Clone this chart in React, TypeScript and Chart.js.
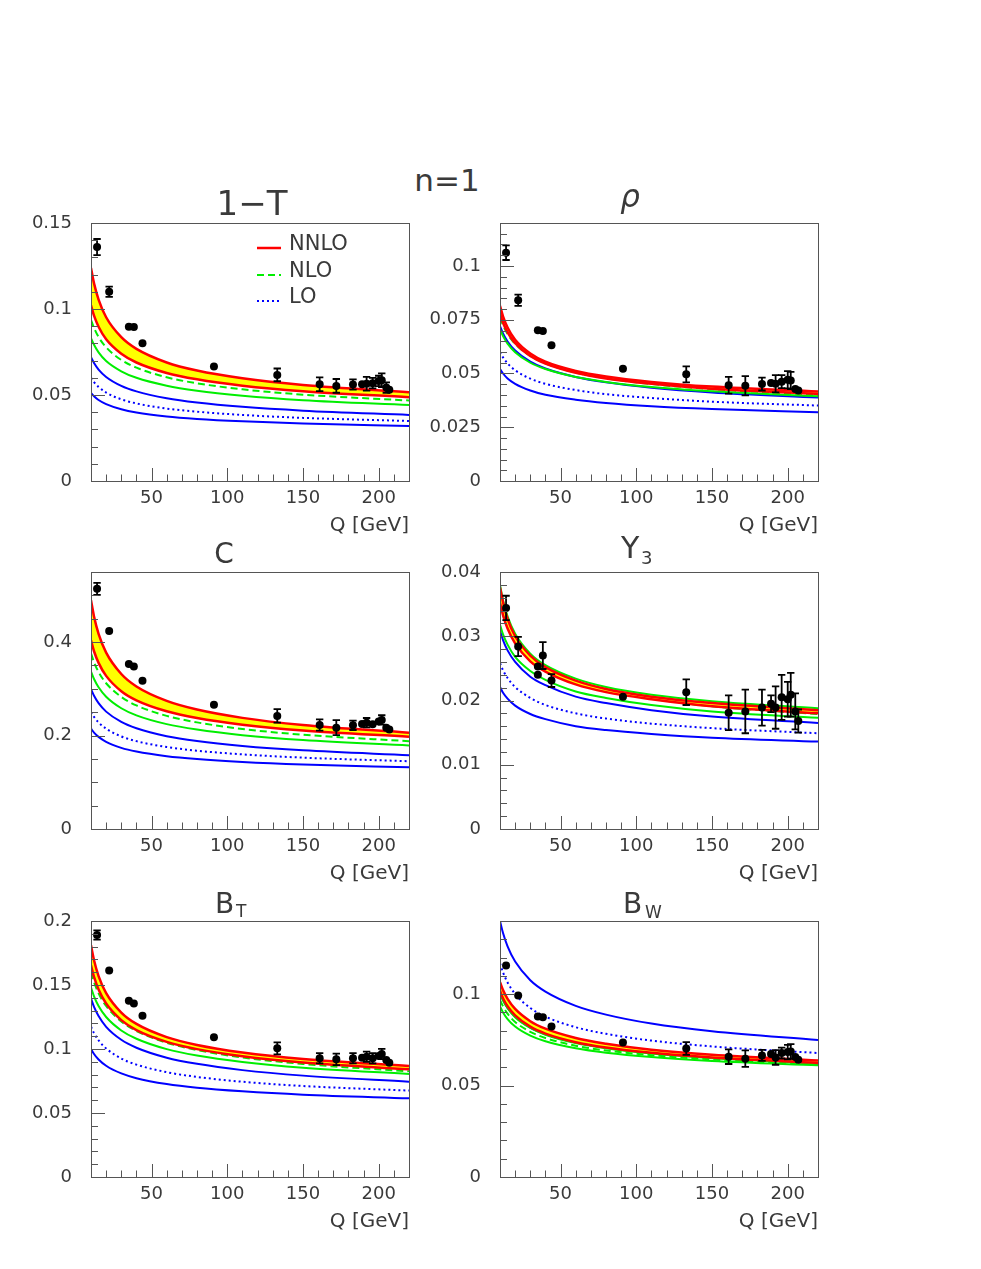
import React, { useEffect, useRef } from 'react';
import { Chart, registerables } from 'chart.js';
Chart.register(...registerables);

const FONT = "'DejaVu Sans', 'Liberation Sans', sans-serif";
const TEXT = '#3a3a3a';
const AXIS = '#555555';
const RED = '#ff0000';
const YELLOW = '#ffff00';
const GREEN = '#00ee00';
const BLUE = '#0000ff';

const PAD_L = 80, PAD_T = 60, PAD_R = 20, PAD_B = 60;

// ---------- shared axes ----------
const X_MIN = 10, X_MAX = 220;
const X_TICKS = [50, 100, 150, 200];
const X_TICK_LABELS = ['50', '100', '150', '200'];
const X_MINOR = [20, 30, 40, 50, 60, 70, 80, 90, 100, 110, 120, 130, 140, 150, 160, 170, 180, 190, 200, 210];
const X_TITLE = 'Q [GeV]';
const LEGEND_LABELS = ['NNLO', 'NLO', 'LO'];
const FIG_TITLE = 'n=1';

// ---------- theory curves (sampled Q values) ----------
const CURVE_Q = [10, 12, 15, 20, 30, 40, 60, 80, 110, 150, 220];

// 1-T
const T_NNLO_HI = [0.1238, 0.1149, 0.1055, 0.0952, 0.0836, 0.0768, 0.0689, 0.0642, 0.0597, 0.0558, 0.0516];
const T_NNLO_LO = [0.1021, 0.0961, 0.0897, 0.0824, 0.0740, 0.0689, 0.0628, 0.0591, 0.0554, 0.0522, 0.0487];
const T_NLO_HI = [0.1045, 0.0989, 0.0928, 0.0857, 0.0771, 0.0718, 0.0653, 0.0612, 0.0571, 0.0534, 0.0494];
const T_NLO_MID = [0.0937, 0.0890, 0.0837, 0.0777, 0.0704, 0.0659, 0.0603, 0.0568, 0.0533, 0.0502, 0.0468];
const T_NLO_LO = [0.0831, 0.0792, 0.0748, 0.0698, 0.0638, 0.0600, 0.0554, 0.0525, 0.0496, 0.0470, 0.0442];
const T_LO_HI = [0.0720, 0.0686, 0.0648, 0.0605, 0.0553, 0.0521, 0.0481, 0.0456, 0.0431, 0.0409, 0.0384];
const T_LO_MID = [0.0600, 0.0575, 0.0547, 0.0514, 0.0475, 0.0451, 0.0421, 0.0403, 0.0384, 0.0367, 0.0349];
const T_LO_LO = [0.0512, 0.0493, 0.0471, 0.0447, 0.0417, 0.0398, 0.0375, 0.0361, 0.0347, 0.0334, 0.0320];

// rho
const RHO_NNLO_HI = [0.0815, 0.0766, 0.0714, 0.0657, 0.0593, 0.0555, 0.0512, 0.0486, 0.0461, 0.0439, 0.0416];
const RHO_NNLO_LO = [0.0778, 0.0736, 0.0691, 0.0641, 0.0581, 0.0546, 0.0503, 0.0477, 0.0452, 0.0429, 0.0405];
const RHO_NLO_HI = [0.0790, 0.0747, 0.0701, 0.0650, 0.0589, 0.0553, 0.0510, 0.0483, 0.0457, 0.0434, 0.0409];
const RHO_NLO_MID = [0.0760, 0.0724, 0.0684, 0.0638, 0.0582, 0.0547, 0.0504, 0.0478, 0.0451, 0.0427, 0.0401];
const RHO_NLO_LO = [0.0705, 0.0674, 0.0639, 0.0599, 0.0550, 0.0521, 0.0484, 0.0461, 0.0437, 0.0417, 0.0394];
const RHO_LO_HI = [0.0720, 0.0686, 0.0649, 0.0607, 0.0555, 0.0523, 0.0484, 0.0459, 0.0434, 0.0412, 0.0388];
const RHO_LO_MID = [0.0600, 0.0575, 0.0547, 0.0515, 0.0476, 0.0452, 0.0423, 0.0404, 0.0386, 0.0369, 0.0351];
const RHO_LO_LO = [0.0520, 0.0500, 0.0477, 0.0452, 0.0421, 0.0401, 0.0378, 0.0363, 0.0348, 0.0335, 0.0320];

// C
const C_NNLO_HI = [0.4897, 0.4548, 0.4176, 0.3774, 0.3317, 0.3050, 0.2741, 0.2556, 0.2378, 0.2225, 0.2060];
const C_NNLO_LO = [0.4035, 0.3804, 0.3555, 0.3277, 0.2949, 0.2754, 0.2519, 0.2375, 0.2233, 0.2109, 0.1975];
const C_NLO_HI = [0.4120, 0.3882, 0.3625, 0.3338, 0.3000, 0.2798, 0.2556, 0.2407, 0.2261, 0.2133, 0.1995];
const C_NLO_MID = [0.3760, 0.3570, 0.3360, 0.3119, 0.2826, 0.2645, 0.2421, 0.2282, 0.2141, 0.2017, 0.1880];
const C_NLO_LO = [0.3370, 0.3210, 0.3033, 0.2831, 0.2584, 0.2432, 0.2244, 0.2127, 0.2008, 0.1903, 0.1788];
const C_LO_HI = [0.2994, 0.2851, 0.2693, 0.2512, 0.2291, 0.2156, 0.1987, 0.1883, 0.1777, 0.1683, 0.1580];
const C_LO_MID = [0.2506, 0.2399, 0.2281, 0.2146, 0.1981, 0.1880, 0.1754, 0.1676, 0.1597, 0.1527, 0.1450];
const C_LO_LO = [0.2147, 0.2063, 0.1971, 0.1865, 0.1736, 0.1657, 0.1558, 0.1497, 0.1435, 0.1380, 0.1320];

// Y3
const Y3_NNLO_HI = [0.0376, 0.0353, 0.0327, 0.0300, 0.0270, 0.0252, 0.0231, 0.0218, 0.0206, 0.0196, 0.0185];
const Y3_NNLO_LO = [0.0352, 0.0333, 0.0312, 0.0289, 0.0261, 0.0245, 0.0225, 0.0213, 0.0202, 0.0191, 0.0180];
const Y3_NLO_HI = [0.0380, 0.0356, 0.0331, 0.0304, 0.0273, 0.0255, 0.0234, 0.0221, 0.0209, 0.0199, 0.0188];
const Y3_NLO_MID = [0.0350, 0.0333, 0.0314, 0.0292, 0.0265, 0.0249, 0.0228, 0.0216, 0.0203, 0.0191, 0.0179];
const Y3_NLO_LO = [0.0318, 0.0303, 0.0287, 0.0268, 0.0246, 0.0232, 0.0214, 0.0204, 0.0193, 0.0183, 0.0173];
const Y3_LO_HI = [0.0309, 0.0294, 0.0278, 0.0260, 0.0237, 0.0224, 0.0206, 0.0196, 0.0185, 0.0175, 0.0165];
const Y3_LO_MID = [0.0258, 0.0247, 0.0235, 0.0221, 0.0204, 0.0193, 0.0180, 0.0172, 0.0164, 0.0157, 0.0149];
const Y3_LO_LO = [0.0221, 0.0212, 0.0203, 0.0192, 0.0179, 0.0171, 0.0160, 0.0154, 0.0148, 0.0142, 0.0136];

// B_T
const BT_NNLO_HI = [0.1810, 0.1694, 0.1570, 0.1437, 0.1285, 0.1196, 0.1093, 0.1032, 0.0973, 0.0922, 0.0867];
const BT_NNLO_LO = [0.1654, 0.1563, 0.1465, 0.1355, 0.1226, 0.1148, 0.1056, 0.0999, 0.0943, 0.0894, 0.0841];
const BT_NLO_HI = [0.1675, 0.1583, 0.1483, 0.1371, 0.1240, 0.1162, 0.1068, 0.1010, 0.0953, 0.0904, 0.0850];
const BT_NLO_MID = [0.1600, 0.1522, 0.1435, 0.1336, 0.1215, 0.1141, 0.1049, 0.0992, 0.0934, 0.0883, 0.0826];
const BT_NLO_LO = [0.1480, 0.1412, 0.1336, 0.1250, 0.1145, 0.1080, 0.0999, 0.0949, 0.0899, 0.0854, 0.0805];
const BT_LO_HI = [0.1395, 0.1329, 0.1257, 0.1173, 0.1072, 0.1010, 0.0932, 0.0884, 0.0835, 0.0792, 0.0745];
const BT_LO_MID = [0.1174, 0.1124, 0.1068, 0.1004, 0.0926, 0.0878, 0.0819, 0.0782, 0.0744, 0.0711, 0.0675];
const BT_LO_LO = [0.1000, 0.0961, 0.0918, 0.0869, 0.0809, 0.0772, 0.0726, 0.0697, 0.0669, 0.0643, 0.0615];

// B_W
const BW_NNLO_HI = [0.1065, 0.1022, 0.0974, 0.0919, 0.0852, 0.0811, 0.0760, 0.0729, 0.0696, 0.0668, 0.0637];
const BW_NNLO_LO = [0.1018, 0.0978, 0.0934, 0.0884, 0.0822, 0.0784, 0.0737, 0.0708, 0.0679, 0.0653, 0.0624];
const BW_NLO_HI = [0.1005, 0.0966, 0.0923, 0.0874, 0.0815, 0.0778, 0.0732, 0.0704, 0.0675, 0.0650, 0.0622];
const BW_NLO_MID = [0.0968, 0.0933, 0.0893, 0.0848, 0.0794, 0.0760, 0.0718, 0.0692, 0.0666, 0.0643, 0.0617];
const BW_NLO_LO = [0.0933, 0.0900, 0.0864, 0.0823, 0.0773, 0.0742, 0.0704, 0.0680, 0.0656, 0.0635, 0.0611];
const BW_LO_HI = [0.1400, 0.1334, 0.1261, 0.1178, 0.1076, 0.1014, 0.0936, 0.0888, 0.0839, 0.0797, 0.0749];
const BW_LO_MID = [0.1168, 0.1119, 0.1064, 0.1001, 0.0924, 0.0877, 0.0819, 0.0783, 0.0746, 0.0714, 0.0678];
const BW_LO_LO = [0.1005, 0.0967, 0.0924, 0.0876, 0.0817, 0.0781, 0.0736, 0.0708, 0.0680, 0.0655, 0.0627];

// ---------- measurements ----------
const DATA_Q = [14, 22, 35, 38.3, 44, 91.2, 133, 161, 172, 183, 189, 192, 196, 200, 202, 205, 207];
const Y3_DATA_Q = [14, 22, 35, 35, 38.3, 44, 91.2, 133, 161, 172, 183, 189, 192, 196, 200, 202, 205, 207];

const T_DATA = [0.136, 0.110, 0.0897, 0.0895, 0.0801, 0.0666, 0.0617, 0.0563, 0.0553, 0.0561, 0.0563, 0.0565, 0.0569, 0.0582, 0.0586, 0.0543, 0.0530];
const T_ERR = [0.0047, 0.003, 0.0015, 0.002, 0.001, 0.0005, 0.0037, 0.004, 0.004, 0.003, 0.001, 0.004, 0.003, 0.003, 0.004, 0.003, 0.002];

const RHO_DATA = [0.1062, 0.0841, 0.0701, 0.0698, 0.0631, 0.0522, 0.0496, 0.0445, 0.0443, 0.0451, 0.0456, 0.0452, 0.0462, 0.0471, 0.0468, 0.0428, 0.0421];
const RHO_ERR = [0.0034, 0.0026, 0.001, 0.0015, 0.0008, 0.0003, 0.0037, 0.0039, 0.0045, 0.003, 0.001, 0.004, 0.003, 0.004, 0.004, 0.002, 0.002];

const C_DATA = [0.514, 0.4236, 0.3533, 0.3475, 0.3174, 0.2657, 0.242, 0.2226, 0.2168, 0.2219, 0.2247, 0.2276, 0.224, 0.2298, 0.2334, 0.2168, 0.2132];
const C_ERR = [0.0129, 0.008, 0.005, 0.008, 0.003, 0.001, 0.0144, 0.012, 0.016, 0.01, 0.003, 0.01, 0.009, 0.009, 0.01, 0.008, 0.006];

const Y3_DATA = [0.0344, 0.0284, 0.0240, 0.0253, 0.0270, 0.0231, 0.0206, 0.0213, 0.0181, 0.0183, 0.0189, 0.0195, 0.0189, 0.0205, 0.0202, 0.0209, 0.0183, 0.0168];
const Y3_ERR = [0.0019, 0.0015, 0.0006, 0.0006, 0.0021, 0.001, 0.0004, 0.002, 0.0027, 0.0034, 0.0028, 0.0013, 0.0033, 0.0035, 0.0027, 0.0034, 0.0028, 0.0018];

const BT_DATA = [0.189, 0.1613, 0.1376, 0.1356, 0.126, 0.1091, 0.1005, 0.0927, 0.0919, 0.0927, 0.0932, 0.094, 0.0927, 0.0945, 0.0961, 0.0914, 0.0893];
const BT_ERR = [0.0036, 0.0015, 0.0015, 0.0015, 0.001, 0.0005, 0.0047, 0.004, 0.0045, 0.004, 0.001, 0.004, 0.004, 0.003, 0.004, 0.003, 0.002];

const BW_DATA = [0.1157, 0.0993, 0.0878, 0.0874, 0.0823, 0.0736, 0.0703, 0.0658, 0.0647, 0.0665, 0.0672, 0.0654, 0.0678, 0.0683, 0.0687, 0.0656, 0.0641];
const BW_ERR = [0.001, 0.001, 0.001, 0.002, 0.001, 0.0005, 0.0035, 0.004, 0.0045, 0.003, 0.001, 0.004, 0.003, 0.004, 0.004, 0.002, 0.002];

// ---------- y axes ----------
const T_Y_TICKS = [0, 0.05, 0.1, 0.15];
const T_Y_LABELS = ['0', '0.05', '0.1', '0.15'];
const RHO_Y_TICKS = [0, 0.025, 0.05, 0.075, 0.1];
const RHO_Y_LABELS = ['0', '0.025', '0.05', '0.075', '0.1'];
const C_Y_TICKS = [0, 0.2, 0.4];
const C_Y_LABELS = ['0', '0.2', '0.4'];
const Y3_Y_TICKS = [0, 0.01, 0.02, 0.03, 0.04];
const Y3_Y_LABELS = ['0', '0.01', '0.02', '0.03', '0.04'];
const BT_Y_TICKS = [0, 0.05, 0.1, 0.15, 0.2];
const BT_Y_LABELS = ['0', '0.05', '0.1', '0.15', '0.2'];
const BW_Y_TICKS = [0, 0.05, 0.1];
const BW_Y_LABELS = ['0', '0.05', '0.1'];

type TitlePart = { text: string; size: number; x: number; y: number; align?: CanvasTextAlign; italic?: boolean };
type PanelDef = {
  key: string;
  left: number; top: number; right: number; bottom: number;
  yMax: number; yMinor: number; yTicks: number[]; yLabels: string[];
  curves: number[][]; // nnloHi, nnloLo, nloHi, nloMid, nloLo, loHi, loMid, loLo
  dataQ: number[]; data: number[]; err: number[];
  title: TitlePart[];
  legend?: boolean;
};

const PANELS: PanelDef[] = [
  {
    key: 'T', left: 91, top: 223, right: 409, bottom: 481,
    yMax: 0.15, yMinor: 0.01, yTicks: T_Y_TICKS, yLabels: T_Y_LABELS,
    curves: [T_NNLO_HI, T_NNLO_LO, T_NLO_HI, T_NLO_MID, T_NLO_LO, T_LO_HI, T_LO_MID, T_LO_LO],
    dataQ: DATA_Q, data: T_DATA, err: T_ERR,
    title: [{ text: '1\u2212T', size: 34, x: 161, y: -8, align: 'center' }],
    legend: true,
  },
  {
    key: 'rho', left: 500, top: 223, right: 818, bottom: 481,
    yMax: 0.12, yMinor: 0.005, yTicks: RHO_Y_TICKS, yLabels: RHO_Y_LABELS,
    curves: [RHO_NNLO_HI, RHO_NNLO_LO, RHO_NLO_HI, RHO_NLO_MID, RHO_NLO_LO, RHO_LO_HI, RHO_LO_MID, RHO_LO_LO],
    dataQ: DATA_Q, data: RHO_DATA, err: RHO_ERR,
    title: [{ text: '\u03c1', size: 31, x: 130, y: -16, align: 'center', italic: true }],
  },
  {
    key: 'C', left: 91, top: 572, right: 409, bottom: 829,
    yMax: 0.55, yMinor: 0.05, yTicks: C_Y_TICKS, yLabels: C_Y_LABELS,
    curves: [C_NNLO_HI, C_NNLO_LO, C_NLO_HI, C_NLO_MID, C_NLO_LO, C_LO_HI, C_LO_MID, C_LO_LO],
    dataQ: DATA_Q, data: C_DATA, err: C_ERR,
    title: [{ text: 'C', size: 28, x: 133, y: -9, align: 'center' }],
  },
  {
    key: 'Y3', left: 500, top: 572, right: 818, bottom: 829,
    yMax: 0.04, yMinor: 0.002, yTicks: Y3_Y_TICKS, yLabels: Y3_Y_LABELS,
    curves: [Y3_NNLO_HI, Y3_NNLO_LO, Y3_NLO_HI, Y3_NLO_MID, Y3_NLO_LO, Y3_LO_HI, Y3_LO_MID, Y3_LO_LO],
    dataQ: Y3_DATA_Q, data: Y3_DATA, err: Y3_ERR,
    title: [{ text: 'Y', size: 30, x: 121, y: -14 }, { text: '3', size: 18, x: 141, y: -8 }],
  },
  {
    key: 'BT', left: 91, top: 921, right: 409, bottom: 1177,
    yMax: 0.2, yMinor: 0.01, yTicks: BT_Y_TICKS, yLabels: BT_Y_LABELS,
    curves: [BT_NNLO_HI, BT_NNLO_LO, BT_NLO_HI, BT_NLO_MID, BT_NLO_LO, BT_LO_HI, BT_LO_MID, BT_LO_LO],
    dataQ: DATA_Q, data: BT_DATA, err: BT_ERR,
    title: [{ text: 'B', size: 28, x: 124, y: -8 }, { text: 'T', size: 17, x: 145, y: -4 }],
  },
  {
    key: 'BW', left: 500, top: 921, right: 818, bottom: 1177,
    yMax: 0.14, yMinor: 0.01, yTicks: BW_Y_TICKS, yLabels: BW_Y_LABELS,
    curves: [BW_NNLO_HI, BW_NNLO_LO, BW_NLO_HI, BW_NLO_MID, BW_NLO_LO, BW_LO_HI, BW_LO_MID, BW_LO_LO],
    dataQ: DATA_Q, data: BW_DATA, err: BW_ERR,
    title: [{ text: 'B', size: 28, x: 123, y: -8 }, { text: 'W', size: 17, x: 145, y: -3 }],
  },
];

const CURVE_STYLE = [
  { color: RED, width: 2.5, dash: [] as number[], fill: false as any },
  { color: RED, width: 2.5, dash: [] as number[], fill: '-1' as any },
  { color: GREEN, width: 2, dash: [] as number[], fill: false as any },
  { color: GREEN, width: 2, dash: [7, 4], fill: false as any },
  { color: GREEN, width: 2, dash: [] as number[], fill: false as any },
  { color: BLUE, width: 2, dash: [] as number[], fill: false as any },
  { color: BLUE, width: 2, dash: [2, 3], fill: false as any },
  { color: BLUE, width: 2, dash: [] as number[], fill: false as any },
];

const LEGEND_STYLE = [
  { color: RED, width: 2.5, dash: [] as number[], dy: 25 },
  { color: GREEN, width: 2, dash: [7, 4], dy: 52 },
  { color: BLUE, width: 2, dash: [2, 3], dy: 78 },
];

function makeDecor(def: PanelDef) {
  return {
    id: 'decor_' + def.key,
    afterDatasetsDraw(chart: any) {
      const { ctx, scales } = chart;
      const x = scales.x, y = scales.y;
      ctx.save();
      ctx.strokeStyle = '#000';
      ctx.lineWidth = 1.8;
      def.dataQ.forEach((q, i) => {
        const e = def.err[i];
        const px = x.getPixelForValue(q);
        const y1 = y.getPixelForValue(def.data[i] + e);
        const y2 = y.getPixelForValue(def.data[i] - e);
        if (y2 - y1 < 9) return;
        ctx.beginPath();
        ctx.moveTo(px, y1); ctx.lineTo(px, y2);
        ctx.moveTo(px - 3.7, y1); ctx.lineTo(px + 3.7, y1);
        ctx.moveTo(px - 3.7, y2); ctx.lineTo(px + 3.7, y2);
        ctx.stroke();
      });
      ctx.restore();
    },
    afterDraw(chart: any) {
      const { ctx, chartArea: a, scales } = chart;
      const x = scales.x, y = scales.y;
      ctx.save();
      // frame
      ctx.strokeStyle = AXIS;
      ctx.lineWidth = 1;
      ctx.strokeRect(Math.round(a.left) + 0.5, Math.round(a.top) + 0.5, Math.round(a.right - a.left), Math.round(a.bottom - a.top));
      // ticks, drawn inward
      ctx.beginPath();
      X_MINOR.forEach((v) => {
        const px = Math.round(x.getPixelForValue(v)) + 0.5;
        const len = X_TICKS.includes(v) ? 13 : 6.5;
        ctx.moveTo(px, a.bottom);
        ctx.lineTo(px, a.bottom - len);
      });
      const n = Math.round(def.yMax / def.yMinor);
      for (let k = 1; k <= n; k++) {
        const v = k * def.yMinor;
        if (v > def.yMax + 1e-9) break;
        const major = def.yTicks.some((t) => Math.abs(t - v) < def.yMinor / 10);
        const py = Math.round(y.getPixelForValue(v)) + 0.5;
        ctx.moveTo(a.left, py);
        ctx.lineTo(a.left + (major ? 14 : 7), py);
      }
      ctx.stroke();
      // panel title
      ctx.fillStyle = TEXT;
      ctx.textBaseline = 'alphabetic';
      def.title.forEach((p) => {
        ctx.font = `${p.italic ? 'italic ' : ''}${p.size}px ${FONT}`;
        ctx.textAlign = p.align ?? 'left';
        ctx.fillText(p.text, a.left + p.x, a.top + p.y);
      });
      // legend
      if (def.legend) {
        LEGEND_STYLE.forEach((s, i) => {
          ctx.strokeStyle = s.color;
          ctx.lineWidth = s.width;
          ctx.setLineDash(s.dash);
          ctx.beginPath();
          ctx.moveTo(a.left + 166, a.top + s.dy);
          ctx.lineTo(a.left + 190, a.top + s.dy);
          ctx.stroke();
          ctx.setLineDash([]);
          ctx.fillStyle = TEXT;
          ctx.font = `21px ${FONT}`;
          ctx.textAlign = 'left';
          ctx.fillText(LEGEND_LABELS[i], a.left + 198, a.top + s.dy + 2);
        });
      }
      ctx.restore();
    },
  };
}

function Panel({ def }: { def: PanelDef }) {
  const ref = useRef<HTMLCanvasElement>(null);
  const W = def.right - def.left + PAD_L + PAD_R;
  const H = def.bottom - def.top + PAD_T + PAD_B;

  useEffect(() => {
    const canvas = ref.current;
    if (!canvas) return;
    const datasets: any[] = [
      {
        type: 'line',
        data: def.dataQ.map((q, i) => ({ x: q, y: def.data[i] })),
        showLine: false,
        pointRadius: 4,
        pointBackgroundColor: '#000',
        pointBorderColor: '#000',
        pointBorderWidth: 0,
        borderColor: '#000',
      },
      ...def.curves.map((vals, ci) => ({
        type: 'line',
        data: CURVE_Q.map((q, i) => ({ x: q, y: vals[i] })),
        borderColor: CURVE_STYLE[ci].color,
        borderWidth: CURVE_STYLE[ci].width,
        borderDash: CURVE_STYLE[ci].dash,
        backgroundColor: YELLOW,
        fill: CURVE_STYLE[ci].fill,
        pointRadius: 0,
        cubicInterpolationMode: 'monotone',
      })),
    ];
    const chart = new Chart(canvas, {
      type: 'line',
      data: { datasets },
      options: {
        animation: false,
        responsive: false,
        devicePixelRatio: 1,
        events: [],
        layout: { padding: { top: PAD_T, right: PAD_R, left: 0, bottom: 0 } },
        plugins: { legend: { display: false }, tooltip: { enabled: false }, title: { display: false } },
        scales: {
          x: {
            type: 'linear', min: X_MIN, max: X_MAX,
            grid: { display: false, drawTicks: false },
            border: { display: false },
            afterBuildTicks: (s: any) => { s.ticks = X_TICKS.map((v) => ({ value: v })); },
            afterFit: (s: any) => { s.height = PAD_B; },
            ticks: {
              autoSkip: false, maxRotation: 0, padding: 7,
              font: { family: FONT, size: 18 }, color: TEXT,
              callback: (_v: any, i: number) => X_TICK_LABELS[i],
            },
            title: {
              display: true, text: X_TITLE, align: 'end',
              font: { family: FONT, size: 20 }, color: TEXT,
              padding: { top: 0, bottom: 3 },
            },
          },
          y: {
            type: 'linear', min: 0, max: def.yMax,
            grid: { display: false, drawTicks: false },
            border: { display: false },
            afterBuildTicks: (s: any) => { s.ticks = def.yTicks.map((v) => ({ value: v })); },
            afterFit: (s: any) => { s.width = PAD_L; },
            ticks: {
              autoSkip: false, padding: 19,
              font: { family: FONT, size: 18 }, color: TEXT,
              callback: (_v: any, i: number) => def.yLabels[i],
            },
          },
        },
      } as any,
      plugins: [makeDecor(def)],
    });
    return () => chart.destroy();
  }, [def]);

  return (
    <canvas
      ref={ref}
      width={W}
      height={H}
      style={{ position: 'absolute', left: def.left - PAD_L, top: def.top - PAD_T, width: W, height: H }}
    />
  );
}

export default function App() {
  return (
    <div style={{ position: 'absolute', left: 0, top: 0, width: 981, height: 1269, background: '#fff', overflow: 'hidden' }}>
      <div
        style={{
          position: 'absolute', left: 447, top: 165, transform: 'translateX(-50%)',
          fontFamily: FONT, fontSize: 31, lineHeight: '30px', color: TEXT, whiteSpace: 'nowrap',
        }}
      >
        {FIG_TITLE}
      </div>
      {PANELS.map((p) => (
        <Panel key={p.key} def={p} />
      ))}
    </div>
  );
}
